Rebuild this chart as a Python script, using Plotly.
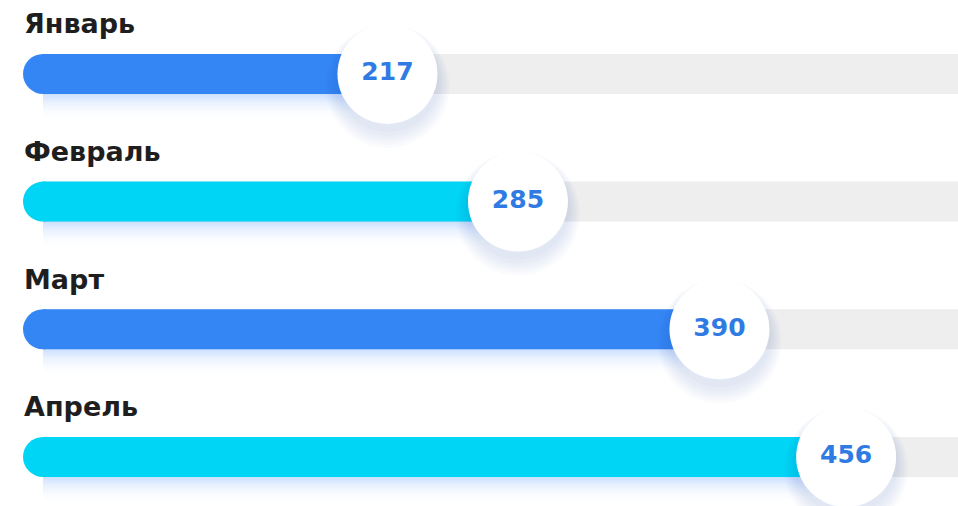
import plotly.graph_objects as go

# ---- data ----
months = ["Январь", "Февраль", "Март", "Апрель"]
values = [217, 285, 390, 456]
bar_colors = ["#3586f5", "#00d5f5", "#3586f5", "#00d5f5"]

# ---- layout constants ----
W, H = 958, 506
X_RANGE = [15.1, 514.3]
Y_RANGE = [3.384, -0.579]
PX_X = (X_RANGE[1] - X_RANGE[0]) / W
PX_Y = (Y_RANGE[0] - Y_RANGE[1]) / H
BAR_START = X_RANGE[0] + 43 * PX_X
BAR_W = 40
CIRCLE = 100

fig = go.Figure()
ys = list(range(len(months)))

for i, (m, v, c) in enumerate(zip(months, values, bar_colors)):
    y = ys[i]
    # grey track
    fig.add_trace(go.Scatter(x=[BAR_START, X_RANGE[1] + 50], y=[y, y], mode="lines",
                             line=dict(color="#eeeeee", width=BAR_W), hoverinfo="skip",
                             showlegend=False))
    # soft glow under bar (layered translucent strips)
    for off in range(4, 30, 2):
        a = 0.045 * (1 - off / 30)
        fig.add_trace(go.Scatter(x=[BAR_START, v], y=[y + off * PX_Y] * 2, mode="lines",
                                 line=dict(color=f"rgba(70,140,245,{a:.3f})", width=BAR_W - 6),
                                 hoverinfo="skip", showlegend=False))
    # coloured bar
    fig.add_trace(go.Scatter(x=[BAR_START, v], y=[y, y], mode="lines",
                             line=dict(color=c, width=BAR_W), hoverinfo="skip",
                             showlegend=False))
    # rounded start cap
    fig.add_trace(go.Scatter(x=[BAR_START], y=[y], mode="markers",
                             marker=dict(color=c, size=BAR_W, line=dict(width=0)),
                             hoverinfo="skip", showlegend=False))

# soft circle shadows
for off, s in [(12, 124), (11, 120), (10, 116), (9, 112), (8, 108), (6, 104)]:
    fig.add_trace(go.Scatter(x=values, y=[y + off * PX_Y for y in ys], mode="markers",
                             marker=dict(color="rgba(60,90,170,0.022)", size=s, line=dict(width=0)),
                             hoverinfo="skip", showlegend=False))

# value circles with labels
fig.add_trace(go.Scatter(x=values, y=ys, mode="markers+text",
                         marker=dict(color="white", size=CIRCLE, line=dict(width=0)),
                         text=[str(v) for v in values], textposition="middle center",
                         textfont=dict(family="DejaVu Sans", size=25, color="#2f7be3",
                                       weight="bold"),
                         hoverinfo="skip", showlegend=False))

for i, m in enumerate(months):
    fig.add_annotation(x=22 / W, xref="paper", y=ys[i], yref="y", yshift=50,
                       text=f"<b>{m}</b>", showarrow=False, xanchor="left", yanchor="middle",
                       font=dict(family="DejaVu Sans", size=27, color="#1e1e1e"))

fig.update_layout(
    width=W, height=H,
    margin=dict(l=0, r=0, t=0, b=0),
    paper_bgcolor="white", plot_bgcolor="white",
    xaxis=dict(range=X_RANGE, visible=False, fixedrange=True),
    yaxis=dict(range=Y_RANGE, visible=False, fixedrange=True),
    showlegend=False,
)

fig.write_html("out.html", config={"displayModeBar": False},
               post_script="document.body.style.margin='0';document.body.style.overflow='hidden';")
